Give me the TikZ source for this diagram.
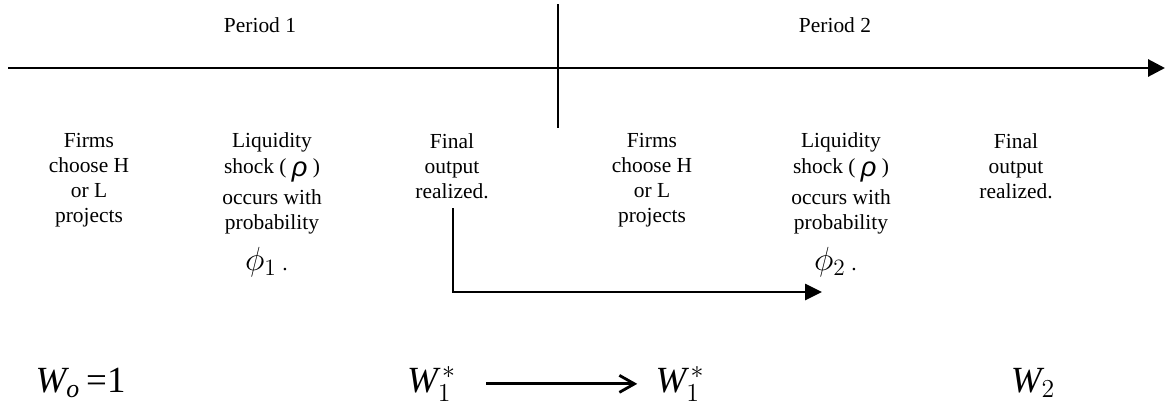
\RequirePackage{fix-cm}
\documentclass[tikz,border=0pt]{standalone}
\usepackage{fontspec}
\setmainfont{Liberation Serif}
\newfontfamily\greekfont{Liberation Sans}
\usetikzlibrary{arrows.meta}
\newcommand{\shockrho}{\raisebox{-1.5pt}{\greekfont\itshape\fontsize{15.5}{15}\selectfont ρ}}

\begin{document}
\begin{tikzpicture}[
    event/.style={anchor=north, align=center, inner sep=0pt,
                  font=\fontsize{12.2}{14.3}\selectfont},
    period/.style={inner sep=0pt, font=\fontsize{12.2}{14.3}\selectfont},
    wealth/.style={anchor=base, inner sep=0pt, font=\fontsize{21}{24}\selectfont},
    timeline/.style={line width=1.7pt, -{Triangle[length=0.34cm,width=0.34cm]}},
    carry/.style={line width=1.5pt, -{Triangle[length=0.34cm,width=0.32cm]}},
    passon/.style={line width=1.6pt, -{Straight Barb[length=0.3cm,width=0.34cm]}}]
                        \useasboundingbox (0,0) rectangle (23.400000,8.160000);

                        % Drawing time line
                        \coordinate (tstart) at (0.160000,6.800000);
                        \coordinate (tend) at (23.300000,6.800000);
                        \draw [timeline] (tstart) -- (tend);%

                        % Drawing period divider
                        \coordinate (dtop) at (11.160000,8.080000);
                        \coordinate (dbot) at (11.160000,5.600000);
                        \draw [line width=1.6pt] (dtop) -- (dbot);%

                        % Marking periods
                        \draw (5.200000,7.660000) node [period] (pone) { Period 1 };%
                        \draw (16.700000,7.660000) node [period] (ptwo) { Period 2 };%

                        % Marking events of period 1
                        \draw (1.780000,5.500000) node [event] (choosea) { Firms\\ choose H\\ or L\\ projects };%
                        \draw (5.440000,5.520000) node [event] (shocka) { Liquidity\\[0.8pt] shock ( \shockrho\ )\\[3.4pt] occurs with\\ probability };%
                        \draw (5.440000,2.760000) node [event, anchor=base, font=\fontsize{19}{19}\selectfont] (phia) { $\phi_{1}$\,{\fontsize{12.2}{14.3}\selectfont.} };%
                        \draw (9.040000,5.500000) node [event] (finala) { Final\\ output\\ realized. };%

                        % Marking events of period 2
                        \draw (13.040000,5.500000) node [event] (chooseb) { Firms\\ choose H\\ or L\\ projects };%
                        \draw (16.820000,5.520000) node [event] (shockb) { Liquidity\\[0.8pt] shock ( \shockrho\ )\\[3.4pt] occurs with\\ probability };%
                        \draw (16.820000,2.760000) node [event, anchor=base, font=\fontsize{19}{19}\selectfont] (phib) { $\phi_{2}$\,{\fontsize{12.2}{14.3}\selectfont.} };%
                        \draw (20.320000,5.500000) node [event] (finalb) { Final\\ output\\ realized. };%

                        % Drawing carry-over arrow
                        \coordinate (cstart) at (9.060000,4.000000);
                        \coordinate (cend) at (16.440000,2.320000);
                        \draw [carry] (cstart) |- (cend);%

                        % Marking wealth
                        \draw (1.610000,0.320000) node [wealth] (wzero) { $\mathit{W}_{\mathit{o}}$\,=1 };%
                        \draw (8.630000,0.320000) node [wealth] (wonea) { $\mathit{W}_{1}^{\,*}$ };%
                        \draw (13.600000,0.320000) node [wealth] (woneb) { $\mathit{W}_{1}^{\,*}$ };%
                        \draw (20.660000,0.320000) node [wealth] (wtwo) { $\mathit{W}_{2}$ };%

                        % Drawing wealth arrow
                        \draw [passon, shorten <=0.6cm, shorten >=0.36cm] (wonea.east) -- (woneb.west);%
                    \end{tikzpicture}
\end{document}
